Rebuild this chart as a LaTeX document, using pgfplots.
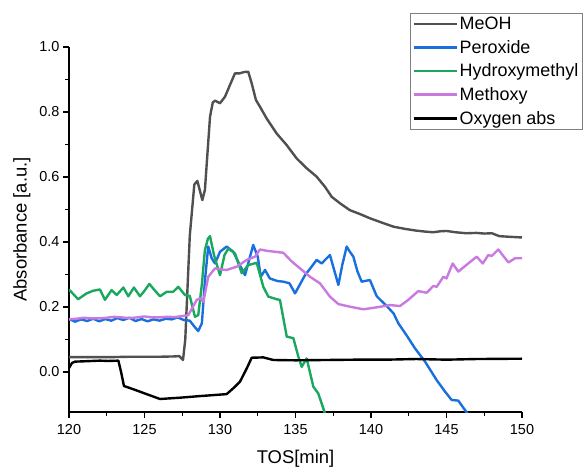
\documentclass[border=0pt]{standalone}
\usepackage{fontspec}
\setmainfont{Liberation Sans}
\usepackage{pgfplots}
\pgfplotsset{compat=1.18}

\definecolor{meoh}{HTML}{505050}
\definecolor{perox}{HTML}{1A6FDF}
\definecolor{hydro}{HTML}{19A85E}
\definecolor{methoxy}{HTML}{C97AE0}

\begin{document}
\begin{tikzpicture}
\begin{axis}[
    scale only axis,
    width=453bp, height=365bp,
    xmin=120, xmax=150,
    ymin=-0.123, ymax=1.0,
    axis x line*=bottom, axis y line*=left,
    axis line style={line width=1.3bp},
    xtick={120,125,...,150},
    ytick={0,0.2,...,1.0},
    minor x tick num=1, minor y tick num=1,
    tick align=outside,
    major tick length=6bp, minor tick length=3.5bp,
    every tick/.style={black, line width=1.1bp},
    yticklabel style={/pgf/number format/.cd, fixed, fixed zerofill, precision=1},
    xticklabel style={yshift=-3bp},
    /pgf/number format/assume math mode=true,
    tick label style={font=\fontsize{14.5}{17}\selectfont},
    xlabel={TOS[min]}, ylabel={Absorbance [a.u.]},
    label style={font=\fontsize{18.5}{22}\selectfont},
    xlabel style={at={(axis description cs:0.5,-0.129)}, anchor=center},
    ylabel style={at={(axis description cs:-0.104,0.5)}, anchor=center},
    legend cell align=left,
    legend image code/.code={\draw[#1] (0bp,0bp) -- (43bp,0bp);},
    legend style={at={(axis description cs:0.753,1.094)}, anchor=north west,
        draw=gray, font=\fontsize{18}{20}\selectfont, row sep=5.2bp,
        inner sep=2bp},
    every axis plot/.append style={line width=2.4bp, line join=round},
]
% MeOH
\addplot[meoh] coordinates {
(120,0.046) (121,0.046) (122,0.046) (123,0.046) (124,0.047) (125,0.047)
(126,0.047) (127,0.048) (127.3,0.049) (127.55,0.037) (127.7,0.10)
(128.0,0.42) (128.3,0.577) (128.5,0.588) (128.83,0.529) (129.0,0.56)
(129.34,0.786) (129.52,0.829) (129.67,0.835) (130.0,0.827) (130.33,0.847)
(130.66,0.883) (130.99,0.919) (131.3,0.919) (131.6,0.923) (131.87,0.924)
(132.1,0.888) (132.38,0.837) (132.65,0.816) (133.09,0.780) (133.75,0.734)
(134.42,0.698) (135.08,0.657) (135.74,0.627) (136.4,0.601) (136.95,0.570)
(137.4,0.539) (137.95,0.519) (138.6,0.498) (139.27,0.486) (139.93,0.473)
(140.7,0.460) (141.5,0.447) (142.3,0.440) (143.0,0.435) (143.6,0.432)
(144.1,0.430) (144.6,0.433) (145.0,0.434) (145.6,0.430) (146.3,0.427)
(147.0,0.428) (147.5,0.426) (148.0,0.427) (148.5,0.418) (149.2,0.416)
(150,0.414)
};
% Peroxide
\addplot[perox] coordinates {
(120,0.163) (120.4,0.155) (120.8,0.162) (121.2,0.157) (121.6,0.164)
(122.0,0.156) (122.4,0.163) (122.8,0.158) (123.2,0.166) (123.6,0.160)
(124.0,0.167) (124.4,0.157) (124.8,0.163) (125.2,0.156) (125.6,0.162)
(126.0,0.158) (126.4,0.164) (126.8,0.162) (127.2,0.168) (127.6,0.160)
(128.0,0.158) (128.3,0.140) (128.56,0.126) (128.8,0.150) (129.0,0.280)
(129.22,0.386) (129.45,0.350) (129.67,0.334) (130.0,0.370) (130.44,0.386)
(130.88,0.370) (131.3,0.330) (131.66,0.298) (131.9,0.340) (132.2,0.391)
(132.5,0.355) (132.7,0.293) (132.98,0.314) (133.3,0.288) (133.8,0.280)
(134.2,0.278) (134.6,0.273) (134.97,0.242) (135.3,0.270) (135.63,0.298)
(136.0,0.320) (136.4,0.345) (136.73,0.334) (137.28,0.360) (137.84,0.268)
(138.1,0.330) (138.39,0.386) (138.6,0.370) (138.83,0.355) (139.1,0.310)
(139.38,0.278) (139.93,0.283) (140.38,0.233) (141.04,0.203) (141.5,0.180)
(141.81,0.150) (142.4,0.110) (142.91,0.073) (143.58,0.032) (144.35,-0.025)
(144.9,-0.060) (145.34,-0.086) (145.78,-0.088) (146.3,-0.122) (146.6,-0.140)
};
% Hydroxymethyl
\addplot[hydro] coordinates {
(120,0.254) (120.6,0.224) (121.17,0.242) (121.6,0.250) (122.05,0.254)
(122.38,0.222) (122.82,0.252) (123.16,0.237) (123.6,0.260) (123.93,0.233)
(124.3,0.260) (124.7,0.233) (125.0,0.250) (125.32,0.271) (125.7,0.250)
(126.03,0.233) (126.47,0.247) (126.9,0.247) (127.24,0.262) (127.68,0.237)
(128.0,0.234) (128.34,0.170) (128.56,0.175) (128.8,0.270) (129.0,0.375)
(129.2,0.410) (129.34,0.418) (129.6,0.360) (130.0,0.298) (130.3,0.360)
(130.55,0.380) (130.99,0.365) (131.44,0.304) (131.87,0.329) (132.43,0.336)
(132.87,0.262) (133.2,0.232) (133.75,0.224) (133.97,0.222) (134.42,0.109)
(134.86,0.104) (135.19,0.047) (135.41,0.016) (135.74,0.042) (136.18,-0.045)
(136.51,-0.066) (136.95,-0.127) (137.1,-0.140)
};
% Methoxy
\addplot[methoxy] coordinates {
(120,0.162) (120.5,0.164) (121,0.167) (121.5,0.165) (122,0.165)
(122.5,0.167) (123,0.170) (123.5,0.168) (124,0.166) (124.5,0.168)
(125,0.171) (125.5,0.168) (126,0.168) (126.5,0.170) (127,0.169)
(127.5,0.172) (127.9,0.175) (128.2,0.200) (128.46,0.222) (128.68,0.227)
(128.9,0.216) (129.22,0.293) (129.67,0.319) (130.0,0.316) (130.44,0.314)
(131.1,0.324) (131.77,0.345) (132.32,0.355) (132.65,0.377) (133.1,0.373)
(133.64,0.370) (134.19,0.367) (134.75,0.340) (135.3,0.319) (135.96,0.293)
(136.62,0.273) (137.28,0.232) (137.84,0.209) (138.6,0.201) (139.49,0.193)
(140.38,0.199) (141.26,0.206) (141.92,0.203) (142.47,0.222) (143.13,0.249)
(143.69,0.244) (144.13,0.265) (144.35,0.262) (144.79,0.293) (145.0,0.288)
(145.41,0.334) (145.78,0.309) (146.44,0.334) (147.0,0.355) (147.4,0.334)
(147.77,0.360) (148.0,0.357) (148.43,0.377) (149.1,0.337) (149.54,0.350)
(150,0.350)
};
% Oxygen abs
\addplot[black] coordinates {
(120,0.012) (120.2,0.028) (120.4,0.032) (121,0.033) (122.05,0.035)
(122.6,0.034) (123.27,0.035) (123.45,0.000) (123.64,-0.043) (124.26,-0.053)
(125.14,-0.068) (126.03,-0.083) (127.35,-0.079) (128.68,-0.074) (130.44,-0.068)
(130.88,-0.050) (131.32,-0.030) (131.77,0.011) (132.1,0.044) (132.87,0.045)
(133.53,0.037) (135,0.036) (137,0.037) (139,0.038) (141,0.038) (143,0.040)
(145,0.038) (147,0.040) (150,0.041)
};
\legend{MeOH, Peroxide, Hydroxymethyl, Methoxy, Oxygen abs}
\coordinate (O) at (rel axis cs:0,0);
\end{axis}
\pgfresetboundingbox
\path[shift={(O)}] (-69bp,-56bp) rectangle (518bp,412bp);
\end{tikzpicture}
\end{document}
